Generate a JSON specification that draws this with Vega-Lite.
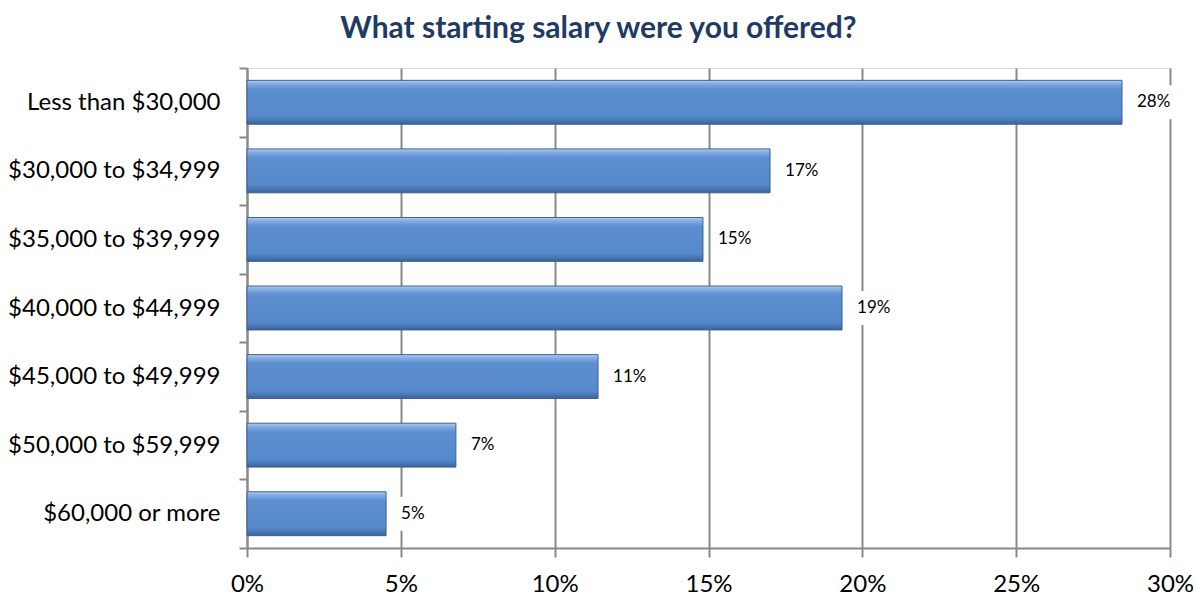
{
  "$schema": "https://vega.github.io/schema/vega-lite/v6.json",
  "autosize": {"type": "none"},
  "width": 923,
  "height": 480,
  "padding": {"left": 247, "top": 68, "right": 26, "bottom": 48},
  "background": "white",
  "title": {
    "text": "What starting salary were you offered?",
    "font": "Lato",
    "fontSize": 30,
    "fontWeight": "bold",
    "color": "#1F3B64",
    "anchor": "middle",
    "dx": -110,
    "offset": 12
  },
  "data": {
    "values": [
      {"range": "Less than $30,000", "share": 0.2844},
      {"range": "$30,000 to $34,999", "share": 0.170},
      {"range": "$35,000 to $39,999", "share": 0.1482},
      {"range": "$40,000 to $44,999", "share": 0.1934},
      {"range": "$45,000 to $49,999", "share": 0.1141},
      {"range": "$50,000 to $59,999", "share": 0.0679},
      {"range": "$60,000 or more", "share": 0.0452}
    ]
  },
  "encoding": {
    "y": {
      "field": "range",
      "type": "nominal",
      "sort": null,
      "title": null,
      "scale": {"paddingInner": 0, "paddingOuter": 0},
      "axis": {
        "labelFont": "Lato",
        "labelFontSize": 24,
        "labelColor": "#000000",
        "labelPadding": 19,
        "labelLimit": 300,
        "tickBand": "extent",
        "tickSize": 8,
        "tickColor": "#898989",
        "tickWidth": 2,
        "domainColor": "#898989",
        "domainWidth": 2,
        "grid": false
      }
    },
    "x": {
      "field": "share",
      "type": "quantitative",
      "title": null,
      "scale": {"domain": [0, 0.3], "nice": false},
      "axis": {
        "format": ".0%",
        "values": [0, 0.05, 0.1, 0.15, 0.2, 0.25, 0.3],
        "labelFont": "Lato",
        "labelFontSize": 24,
        "labelColor": "#000000",
        "labelPadding": 15,
        "labelFlush": false,
        "labelOverlap": false,
        "tickSize": 9,
        "tickColor": "#898989",
        "tickWidth": 2,
        "domainColor": "#898989",
        "domainWidth": 2,
        "grid": true,
        "gridColor": "#898989",
        "gridWidth": 2
      }
    }
  },
  "layer": [
    {
      "mark": {
        "type": "bar",
        "height": {"band": 0.64},
        "stroke": "#3C6292",
        "strokeWidth": 1,
        "color": {
          "gradient": "linear",
          "x1": 0, "y1": 0, "x2": 0, "y2": 1,
          "stops": [
            {"offset": 0, "color": "#B3CDEF"},
            {"offset": 0.07, "color": "#88AEE2"},
            {"offset": 0.2, "color": "#5D8FD0"},
            {"offset": 0.82, "color": "#5689CB"},
            {"offset": 0.92, "color": "#4776B2"},
            {"offset": 1, "color": "#3A6197"}
          ]
        }
      }
    },
    {
      "mark": {
        "type": "point",
        "shape": "M1,-1.7H5V1.7H1Z",
        "filled": true,
        "color": "white",
        "opacity": 1,
        "size": 400
      }
    },
    {
      "mark": {
        "type": "text",
        "align": "left",
        "baseline": "middle",
        "dx": 15,
        "font": "Lato",
        "fontSize": 17,
        "color": "#000000"
      },
      "encoding": {
        "text": {"field": "share", "type": "quantitative", "format": ".0%"}
      }
    }
  ]
}
